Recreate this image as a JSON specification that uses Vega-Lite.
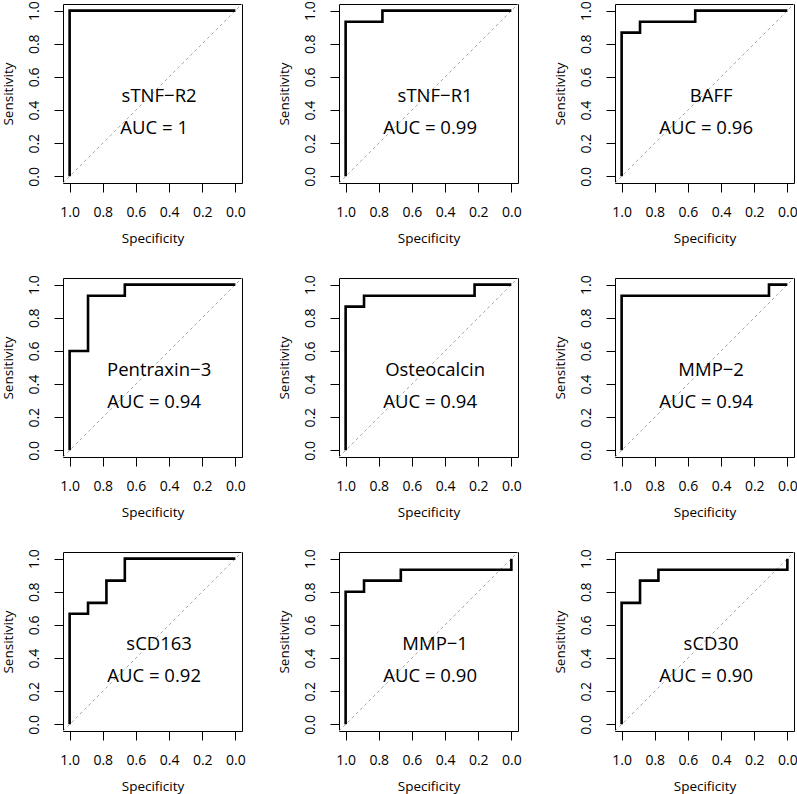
{
  "$schema": "https://vega.github.io/schema/vega-lite/v6.json",
  "padding": {"left": 1, "top": 0, "right": 0, "bottom": 0},
  "background": "white",
  "bounds": "flush",
  "spacing": {"row": 95, "column": 97},
  "config": {
    "view": {"stroke": "black", "strokeWidth": 1},
    "font": "Open Sans",
    "axis": {
      "grid": false, "domain": false, "tickColor": "black", "tickSize": 9, "tickWidth": 1,
      "labelColor": "black", "labelFont": "Open Sans", "labelFontSize": 14, "labelFlush": false, "labelOverlap": false, "labelBound": false,
      "titleColor": "black", "titleFont": "Open Sans", "titleFontSize": 13.5, "titleFontWeight": "normal"
    }
  },
  "data": {"values": [
    {"m": "sTNF−R2", "auc": "AUC = 1", "o": 0, "spec": 1, "sens": 0},
    {"m": "sTNF−R2", "auc": "AUC = 1", "o": 1, "spec": 1, "sens": 1},
    {"m": "sTNF−R2", "auc": "AUC = 1", "o": 2, "spec": 0, "sens": 1},

    {"m": "sTNF−R1", "auc": "AUC = 0.99", "o": 0, "spec": 1, "sens": 0},
    {"m": "sTNF−R1", "auc": "AUC = 0.99", "o": 1, "spec": 1, "sens": 0.933},
    {"m": "sTNF−R1", "auc": "AUC = 0.99", "o": 2, "spec": 0.778, "sens": 0.933},
    {"m": "sTNF−R1", "auc": "AUC = 0.99", "o": 3, "spec": 0.778, "sens": 1},
    {"m": "sTNF−R1", "auc": "AUC = 0.99", "o": 4, "spec": 0, "sens": 1},

    {"m": "BAFF", "auc": "AUC = 0.96", "o": 0, "spec": 1, "sens": 0},
    {"m": "BAFF", "auc": "AUC = 0.96", "o": 1, "spec": 1, "sens": 0.867},
    {"m": "BAFF", "auc": "AUC = 0.96", "o": 2, "spec": 0.889, "sens": 0.867},
    {"m": "BAFF", "auc": "AUC = 0.96", "o": 3, "spec": 0.889, "sens": 0.933},
    {"m": "BAFF", "auc": "AUC = 0.96", "o": 4, "spec": 0.556, "sens": 0.933},
    {"m": "BAFF", "auc": "AUC = 0.96", "o": 5, "spec": 0.556, "sens": 1},
    {"m": "BAFF", "auc": "AUC = 0.96", "o": 6, "spec": 0, "sens": 1},

    {"m": "Pentraxin−3", "auc": "AUC = 0.94", "o": 0, "spec": 1, "sens": 0},
    {"m": "Pentraxin−3", "auc": "AUC = 0.94", "o": 1, "spec": 1, "sens": 0.6},
    {"m": "Pentraxin−3", "auc": "AUC = 0.94", "o": 2, "spec": 0.889, "sens": 0.6},
    {"m": "Pentraxin−3", "auc": "AUC = 0.94", "o": 3, "spec": 0.889, "sens": 0.933},
    {"m": "Pentraxin−3", "auc": "AUC = 0.94", "o": 4, "spec": 0.667, "sens": 0.933},
    {"m": "Pentraxin−3", "auc": "AUC = 0.94", "o": 5, "spec": 0.667, "sens": 1},
    {"m": "Pentraxin−3", "auc": "AUC = 0.94", "o": 6, "spec": 0, "sens": 1},

    {"m": "Osteocalcin", "auc": "AUC = 0.94", "o": 0, "spec": 1, "sens": 0},
    {"m": "Osteocalcin", "auc": "AUC = 0.94", "o": 1, "spec": 1, "sens": 0.867},
    {"m": "Osteocalcin", "auc": "AUC = 0.94", "o": 2, "spec": 0.889, "sens": 0.867},
    {"m": "Osteocalcin", "auc": "AUC = 0.94", "o": 3, "spec": 0.889, "sens": 0.933},
    {"m": "Osteocalcin", "auc": "AUC = 0.94", "o": 4, "spec": 0.222, "sens": 0.933},
    {"m": "Osteocalcin", "auc": "AUC = 0.94", "o": 5, "spec": 0.222, "sens": 1},
    {"m": "Osteocalcin", "auc": "AUC = 0.94", "o": 6, "spec": 0, "sens": 1},

    {"m": "MMP−2", "auc": "AUC = 0.94", "o": 0, "spec": 1, "sens": 0},
    {"m": "MMP−2", "auc": "AUC = 0.94", "o": 1, "spec": 1, "sens": 0.933},
    {"m": "MMP−2", "auc": "AUC = 0.94", "o": 2, "spec": 0.111, "sens": 0.933},
    {"m": "MMP−2", "auc": "AUC = 0.94", "o": 3, "spec": 0.111, "sens": 1},
    {"m": "MMP−2", "auc": "AUC = 0.94", "o": 4, "spec": 0, "sens": 1},

    {"m": "sCD163", "auc": "AUC = 0.92", "o": 0, "spec": 1, "sens": 0},
    {"m": "sCD163", "auc": "AUC = 0.92", "o": 1, "spec": 1, "sens": 0.667},
    {"m": "sCD163", "auc": "AUC = 0.92", "o": 2, "spec": 0.889, "sens": 0.667},
    {"m": "sCD163", "auc": "AUC = 0.92", "o": 3, "spec": 0.889, "sens": 0.733},
    {"m": "sCD163", "auc": "AUC = 0.92", "o": 4, "spec": 0.778, "sens": 0.733},
    {"m": "sCD163", "auc": "AUC = 0.92", "o": 5, "spec": 0.778, "sens": 0.867},
    {"m": "sCD163", "auc": "AUC = 0.92", "o": 6, "spec": 0.667, "sens": 0.867},
    {"m": "sCD163", "auc": "AUC = 0.92", "o": 7, "spec": 0.667, "sens": 1},
    {"m": "sCD163", "auc": "AUC = 0.92", "o": 8, "spec": 0, "sens": 1},

    {"m": "MMP−1", "auc": "AUC = 0.90", "o": 0, "spec": 1, "sens": 0},
    {"m": "MMP−1", "auc": "AUC = 0.90", "o": 1, "spec": 1, "sens": 0.8},
    {"m": "MMP−1", "auc": "AUC = 0.90", "o": 2, "spec": 0.889, "sens": 0.8},
    {"m": "MMP−1", "auc": "AUC = 0.90", "o": 3, "spec": 0.889, "sens": 0.867},
    {"m": "MMP−1", "auc": "AUC = 0.90", "o": 4, "spec": 0.667, "sens": 0.867},
    {"m": "MMP−1", "auc": "AUC = 0.90", "o": 5, "spec": 0.667, "sens": 0.933},
    {"m": "MMP−1", "auc": "AUC = 0.90", "o": 6, "spec": 0, "sens": 0.933},
    {"m": "MMP−1", "auc": "AUC = 0.90", "o": 7, "spec": 0, "sens": 1},

    {"m": "sCD30", "auc": "AUC = 0.90", "o": 0, "spec": 1, "sens": 0},
    {"m": "sCD30", "auc": "AUC = 0.90", "o": 1, "spec": 1, "sens": 0.733},
    {"m": "sCD30", "auc": "AUC = 0.90", "o": 2, "spec": 0.889, "sens": 0.733},
    {"m": "sCD30", "auc": "AUC = 0.90", "o": 3, "spec": 0.889, "sens": 0.867},
    {"m": "sCD30", "auc": "AUC = 0.90", "o": 4, "spec": 0.778, "sens": 0.867},
    {"m": "sCD30", "auc": "AUC = 0.90", "o": 5, "spec": 0.778, "sens": 0.933},
    {"m": "sCD30", "auc": "AUC = 0.90", "o": 6, "spec": 0, "sens": 0.933},
    {"m": "sCD30", "auc": "AUC = 0.90", "o": 7, "spec": 0, "sens": 1}
  ]},
  "columns": 3,
  "facet": {
    "field": "m", "type": "nominal",
    "sort": ["sTNF−R2", "sTNF−R1", "BAFF", "Pentraxin−3", "Osteocalcin", "MMP−2", "sCD163", "MMP−1", "sCD30"],
    "header": {"labelExpr": "''", "labelFontSize": 0, "labelPadding": 0, "title": null}
  },
  "resolve": {"axis": {"x": "independent", "y": "independent"}},
  "spec": {
    "width": 179,
    "height": 179,
    "layer": [
      {
        "transform": [{"filter": "datum.o == 0"}],
        "mark": {"type": "rule", "color": "#a6a6a6", "strokeWidth": 1, "strokeDash": [3, 3]},
        "encoding": {
          "x": {"datum": 1.04, "type": "quantitative"},
          "y": {"datum": -0.04, "type": "quantitative"},
          "x2": {"datum": -0.04},
          "y2": {"datum": 1.04}
        }
      },
      {
        "mark": {"type": "line", "color": "black", "strokeWidth": 2.6, "strokeJoin": "miter", "strokeCap": "butt"},
        "encoding": {
          "x": {"field": "spec", "type": "quantitative",
                "scale": {"domain": [-0.04, 1.04], "reverse": true, "nice": false, "zero": false},
                "axis": {"title": "Specificity", "tickCount": 6, "format": ".1f", "labelOverlap": false, "labelFontSize": 14, "titleFontSize": 13.5, "labelPadding": 13.5, "titlePadding": 12}},
          "y": {"field": "sens", "type": "quantitative",
                "scale": {"domain": [-0.04, 1.04], "nice": false, "zero": false},
                "axis": {"title": "Sensitivity", "tickCount": 6, "format": ".1f", "labelOverlap": false, "labelFontSize": 14, "titleFontSize": 13.5, "labelAngle": 270, "labelAlign": "center", "labelBaseline": "bottom", "labelPadding": 12.5, "titlePadding": 12}},
          "order": {"field": "o", "type": "quantitative"}
        }
      },
      {
        "transform": [{"filter": "datum.o == 0"}],
        "mark": {"type": "text", "font": "Open Sans", "fontSize": 18.5, "color": "black", "align": "center", "baseline": "middle"},
        "encoding": {
          "x": {"datum": 0.46, "type": "quantitative"},
          "y": {"datum": 0.485, "type": "quantitative"},
          "text": {"field": "m"}
        }
      },
      {
        "transform": [{"filter": "datum.o == 0"}],
        "mark": {"type": "text", "font": "Open Sans", "fontSize": 18.5, "color": "black", "align": "center", "baseline": "middle"},
        "encoding": {
          "x": {"datum": 0.49, "type": "quantitative"},
          "y": {"datum": 0.29, "type": "quantitative"},
          "text": {"field": "auc"}
        }
      }
    ]
  }
}
